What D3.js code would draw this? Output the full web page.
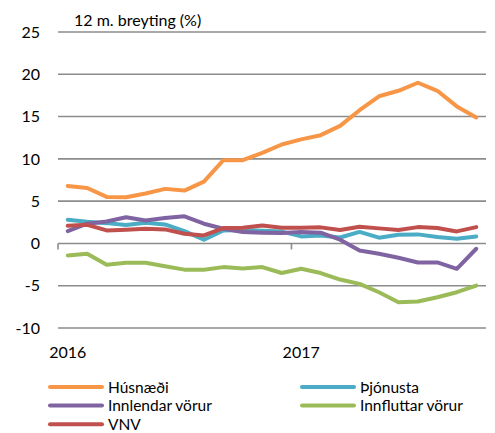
<!DOCTYPE html>
<meta charset="utf-8">
<script src="https://d3js.org/d3.v7.min.js"></script>
<style>
  body { margin: 0; background: #fff; font-family: Lato, 'Open Sans', sans-serif; }
  text { fill: #000; }
  .grid line { stroke: #8c8c8c; stroke-width: 1.6; }
  .series { fill: none; stroke-width: 4; stroke-linejoin: round; stroke-linecap: round; }
</style>
<div id="chart"></div>
<script>
// months Jan 2016 - Oct 2017
var months = d3.range(22);
var yearLabels = {0: "2016", 12: "2017"};
var yTicks = [-10, -5, 0, 5, 10, 15, 20, 25];

var husnaedi   = [6.8, 6.55, 5.5, 5.45, 5.9, 6.45, 6.25, 7.3, 9.85, 9.85, 10.7, 11.7, 12.3, 12.8, 13.9, 15.75, 17.4, 18.05, 19.0, 18.05, 16.2, 14.9];
var thjonusta  = [2.8, 2.57, 2.4, 2.17, 2.45, 2.25, 1.46, 0.44, 1.54, 1.6, 1.5, 1.4, 0.83, 0.95, 0.7, 1.36, 0.68, 1.03, 1.07, 0.75, 0.56, 0.83];
var innlendar  = [1.46, 2.33, 2.6, 3.1, 2.72, 3.0, 3.2, 2.33, 1.74, 1.34, 1.27, 1.22, 1.34, 1.27, 0.44, -0.83, -1.22, -1.7, -2.25, -2.25, -3.0, -0.63];
var innfluttar = [-1.42, -1.22, -2.52, -2.29, -2.29, -2.69, -3.1, -3.1, -2.8, -2.96, -2.8, -3.5, -3.0, -3.5, -4.27, -4.78, -5.77, -6.95, -6.87, -6.36, -5.77, -4.98];
var vnv        = [2.1, 2.2, 1.54, 1.62, 1.74, 1.66, 1.15, 0.95, 1.82, 1.86, 2.13, 1.86, 1.86, 1.9, 1.58, 1.98, 1.78, 1.58, 1.93, 1.82, 1.42, 1.93];

var seriesNames = ["Húsnæði", "Þjónusta", "Innlendar vörur", "Innfluttar vörur", "VNV"];
var seriesValues = [husnaedi, thjonusta, innlendar, innfluttar, vnv];
var colors = ["#F79646", "#4BACC6", "#8064A2", "#9BBB59", "#C0504D"];

var W = 495, H = 433;
var margin = {top: 32, right: 9, bottom: 105, left: 58};
var width = W - margin.left - margin.right,
    height = H - margin.top - margin.bottom;

var svg = d3.select("#chart").append("svg")
    .attr("width", W).attr("height", H)
  .append("g")
    .attr("transform", "translate(" + margin.left + "," + margin.top + ")");

var x = d3.scaleBand().domain(months).range([0, width]);
var y = d3.scaleLinear().domain([-10, 25]).range([height, 0]);

// gridlines
svg.append("g").attr("class", "grid")
  .selectAll("line").data(yTicks.filter(function(d) { return d !== 0; }))
  .enter().append("line")
    .attr("x1", 0).attr("x2", width)
    .attr("y1", function(d) { return y(d); })
    .attr("y2", function(d) { return y(d); });

// y labels
svg.append("g")
  .selectAll("text").data(yTicks)
  .enter().append("text")
    .attr("x", -18)
    .attr("y", function(d) { return y(d); })
    .attr("dy", "0.36em")
    .attr("text-anchor", "end")
    .style("font-size", "16px")
    .text(function(d) { return d; });

// zero axis with year ticks
svg.append("line")
  .attr("x1", 0).attr("x2", width)
  .attr("y1", y(0)).attr("y2", y(0))
  .attr("stroke", "#8c8c8c").attr("stroke-width", 1.6);

svg.append("g").selectAll("line").data([0, 12])
  .enter().append("line")
    .attr("x1", function(d) { return x(d); })
    .attr("x2", function(d) { return x(d); })
    .attr("y1", y(0)).attr("y2", y(0) + 6)
    .attr("stroke", "#8c8c8c").attr("stroke-width", 1.6);

svg.append("g").selectAll("text").data([0, 12])
  .enter().append("text")
    .attr("x", function(d) { return x(d) + x.bandwidth() / 2; })
    .attr("y", height + 30)
    .attr("text-anchor", "middle")
    .style("font-size", "16px")
    .text(function(d) { return yearLabels[d]; });

svg.append("text")
  .attr("x", 16).attr("y", -6)
  .style("font-size", "16px")
  .text("12 m. breyting (%)");

// lines
var line = d3.line()
  .x(function(d, i) { return x(i) + x.bandwidth() / 2; })
  .y(function(d) { return y(d); });

svg.selectAll(".series").data(seriesValues)
  .enter().append("path")
    .attr("class", "series")
    .attr("stroke", function(d, i) { return colors[i]; })
    .attr("d", line);

// legend
var legend = svg.append("g").attr("transform", "translate(0," + (height + 59) + ")");
var item = legend.selectAll("g").data(seriesNames)
  .enter().append("g")
    .attr("transform", function(d, i) {
      return "translate(" + (i % 2 === 0 ? -8 : 244) + "," + Math.floor(i / 2) * 18.6 + ")";
    });
item.append("line")
  .attr("x1", 0).attr("x2", 52)
  .attr("stroke", function(d, i) { return colors[i]; })
  .attr("stroke-width", 4).attr("stroke-linecap", "round");
item.append("text")
  .attr("x", 58).attr("dy", "0.36em")
  .style("font-size", "15.5px")
  .text(function(d) { return d; });
</script>
